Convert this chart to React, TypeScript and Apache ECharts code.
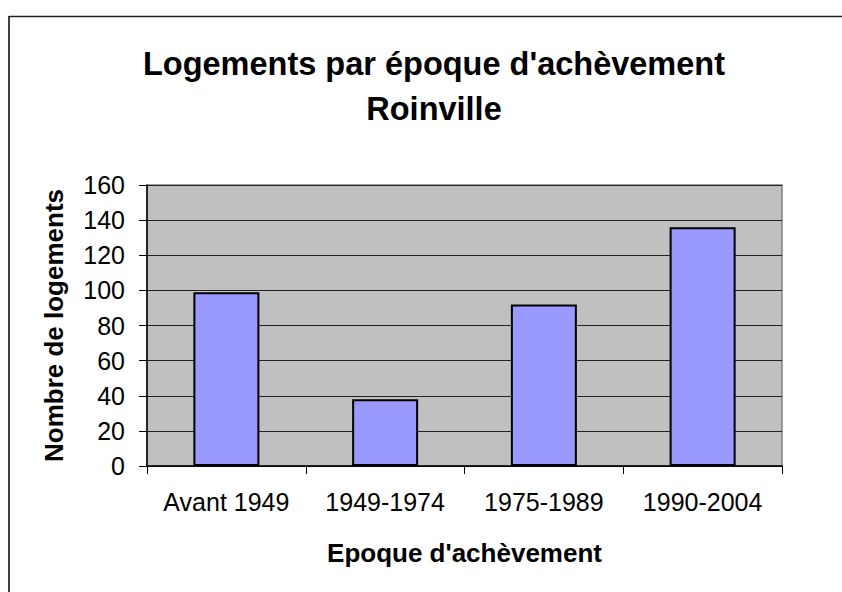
import React, { useEffect, useRef } from "react";
import * as echarts from "echarts";

const titleLines = ["Logements par époque d'achèvement", "Roinville"];
const categories = ["Avant 1949", "1949-1974", "1975-1989", "1990-2004"];
const logements = [99, 38, 92, 136];
const yAxisName = "Nombre de logements";
const xAxisName = "Epoque d'achèvement";
const yMin = 0;
const yMax = 160;
const yInterval = 20;

export default function App() {
  const ref = useRef<HTMLDivElement>(null);
  useEffect(() => {
    if (!ref.current) return;
    const chart = echarts.init(ref.current, null, { renderer: "svg" });
    const font = "Arial, 'Liberation Sans', sans-serif";
    chart.setOption({
      animation: false,
      backgroundColor: "#ffffff",
      textStyle: { fontFamily: font },
      title: {
        text: titleLines.join("\n"),
        left: 429,
        top: 36,
        textAlign: "center",
        textStyle: {
          fontFamily: font,
          fontSize: 32.5,
          fontWeight: "bold",
          color: "#000",
          lineHeight: 45,
        },
      },
      graphic: [
        {
          type: "line",
          shape: { x1: 9, y1: 16.5, x2: 842, y2: 16.5 },
          style: { stroke: "#222", lineWidth: 1.5 },
          silent: true,
        },
        {
          type: "line",
          shape: { x1: 9, y1: 16, x2: 9, y2: 592 },
          style: { stroke: "#000", lineWidth: 1.5 },
          silent: true,
        },
      ],
      grid: {
        left: 147,
        top: 185,
        right: 60,
        bottom: 126,
        show: true,
        backgroundColor: "#c0c0c0",
        borderColor: "#808080",
        borderWidth: 1.5,
        containLabel: false,
      },
      xAxis: {
        type: "category",
        data: categories,
        name: xAxisName,
        nameLocation: "middle",
        nameGap: 74,
        nameTextStyle: { fontFamily: font, fontSize: 26, fontWeight: "bold", color: "#000" },
        axisLine: { show: true, lineStyle: { color: "#000", width: 1.5 } },
        axisTick: { show: true, length: 8, lineStyle: { color: "#000", width: 1 } },
        axisLabel: {
          fontFamily: font,
          fontSize: 25,
          color: "#000",
          margin: 23,
          interval: 0,
          hideOverlap: false,
        },
        splitLine: { show: false },
      },
      yAxis: {
        type: "value",
        min: yMin,
        max: yMax,
        interval: yInterval,
        name: yAxisName,
        nameLocation: "middle",
        nameGap: 80,
        nameRotate: 90,
        nameTextStyle: { fontFamily: font, fontSize: 26, fontWeight: "bold", color: "#000" },
        axisLine: { show: true, lineStyle: { color: "#000", width: 1.5 } },
        axisTick: { show: true, length: 8, lineStyle: { color: "#000", width: 1 } },
        axisLabel: { fontFamily: font, fontSize: 25, color: "#000", margin: 22 },
        splitLine: { show: true, lineStyle: { color: "#222", width: 1 } },
      },
      series: [
        {
          type: "bar",
          data: logements,
          barWidth: 66,
          itemStyle: { color: "#9999ff", borderColor: "#000", borderWidth: 2 },
        },
      ],
    });
    return () => chart.dispose();
  }, []);
  return (
    <div
      ref={ref}
      style={{ position: "fixed", left: 0, top: 0, width: 842, height: 592 }}
    />
  );
}
